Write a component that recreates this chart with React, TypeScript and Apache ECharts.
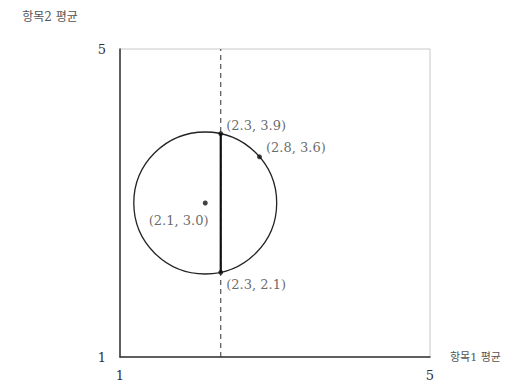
import React, { useEffect, useRef } from "react";
import * as echarts from "echarts";

const xName = "항목1 평균";
const yName = "항목2 평균";
const axisMin = 1;
const axisMax = 5;
const center: [number, number] = [2.1, 3.0];
const chordTop: [number, number] = [2.3, 3.9];
const chordBottom: [number, number] = [2.3, 2.1];
const onCircle: [number, number] = [2.8, 3.6];
const dashedX = 2.3;

const pointLabels = [
  { value: chordTop, pos: [8, -12] },
  { value: onCircle, pos: [9, -13] },
  { value: center, pos: [-54, 13] },
  { value: chordBottom, pos: [8, 8] },
];

const FONT = "'DejaVu Serif', 'Liberation Serif', 'Noto Sans CJK KR', serif";

export default function App() {
  const ref = useRef<HTMLDivElement>(null);
  useEffect(() => {
    const chart = echarts.init(ref.current!, null, { renderer: "svg" });
    const radius = Math.hypot(chordTop[0] - center[0], chordTop[1] - center[1]);
    chart.setOption({
      animation: false,
      backgroundColor: "#fff",
      grid: {
        left: 112,
        top: 41,
        width: 310,
        height: 310,
        show: true,
        borderColor: "#c8c8c8",
        borderWidth: 1,
      },
      xAxis: {
        type: "value",
        min: axisMin,
        max: axisMax,
        interval: 4,
        name: xName,
        nameLocation: "end",
        nameGap: 20,
        nameTextStyle: { fontFamily: FONT, fontSize: 11, color: "#555", verticalAlign: "middle" },
        axisLine: { lineStyle: { color: "#333", width: 1.5 } },
        axisTick: { show: false },
        splitLine: { show: false },
        axisLabel: { fontFamily: FONT, fontSize: 13, color: "#333", margin: 12 },
      },
      yAxis: {
        type: "value",
        min: axisMin,
        max: axisMax,
        interval: 4,
        name: yName,
        nameLocation: "end",
        nameGap: 26,
        nameTextStyle: { fontFamily: FONT, fontSize: 12, color: "#555", align: "center", padding: [0, 140, 0, 0] },
        axisLine: { lineStyle: { color: "#333", width: 1.5 } },
        axisTick: { show: false },
        splitLine: { show: false },
        axisLabel: { fontFamily: FONT, fontSize: 13, color: "#333", margin: 14 },
      },
      series: [
        {
          type: "custom",
          renderItem: (params: any, api: any) => {
            const c = api.coord([api.value(0), api.value(1)]);
            const r = api.value(2);
            const s = api.size([r, r]);
            return {
              type: "ellipse",
              shape: { cx: c[0], cy: c[1], rx: s[0], ry: s[1] },
              style: { fill: "none", stroke: "#222", lineWidth: 1.3 },
            };
          },
          data: [[center[0], center[1], radius]],
          silent: true,
          z: 3,
        },
        {
          type: "line",
          data: [
            [dashedX, axisMin],
            [dashedX, axisMax],
          ],
          symbol: "none",
          lineStyle: { color: "#333", width: 1, type: [5, 4] },
          silent: true,
          z: 2,
        },
        {
          type: "line",
          data: [chordTop, chordBottom],
          symbol: "none",
          lineStyle: { color: "#111", width: 2.2 },
          silent: true,
          z: 4,
        },
        {
          type: "scatter",
          symbolSize: 5,
          itemStyle: { color: "#111" },
          z: 5,
          data: pointLabels.map((p) => ({
            value: p.value,
            label: {
              show: true,
              position: p.pos,
              formatter: `(${p.value[0].toFixed(1)}, ${p.value[1].toFixed(1)})`,
              fontFamily: FONT,
              fontSize: 13,
              color: "#444",
            },
          })),
        },
      ],
    });
    return () => chart.dispose();
  }, []);
  return <div ref={ref} style={{ width: 506, height: 374 }} />;
}
